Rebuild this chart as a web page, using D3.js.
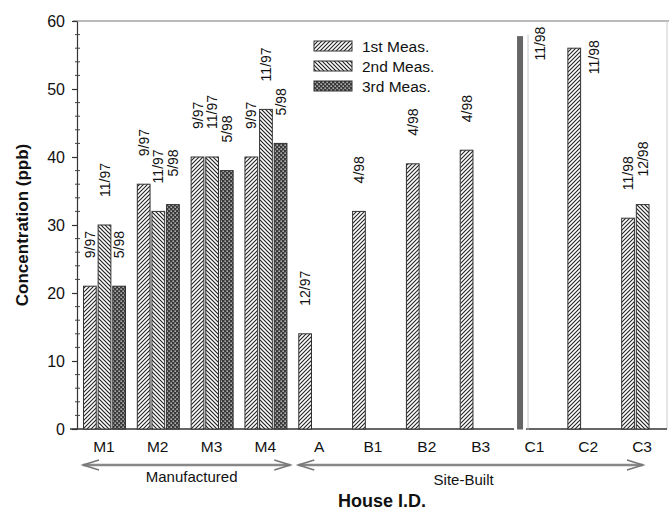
<!DOCTYPE html>
<html>
<head>
<meta charset="utf-8">
<script src="https://cdn.jsdelivr.net/npm/d3@7"></script>
<style>
  body { margin: 0; background: #fff; }
  svg { display: block; font-family: Arial, "Liberation Sans", sans-serif; }
</style>
</head>
<body>
<svg id="chart" width="669" height="515"></svg>
<script>
// house ids and the three measurement rounds (ppb)
let cats  = ['M1', 'M2', 'M3', 'M4', 'A', 'B1', 'B2', 'B3', 'C1', 'C2', 'C3']
let meas1 = [21, 36, 40, 40, 14, 32, 39, 41, 58, 56, 31]
let meas2 = [30, 32, 40, 47, null, null, null, null, null, null, 33]
let meas3 = [21, 33, 38, 42, null, null, null, null, null, null, null]
let date1 = ['9/97', '9/97', '9/97', '9/97', '12/97', '4/98', '4/98', '4/98', '11/98', '11/98', '11/98']
let date2 = ['11/97', '11/97', '11/97', '11/97', null, null, null, null, null, null, '12/98']
let date3 = ['5/98', '5/98', '5/98', '5/98', null, null, null, null, null, null, null]
let solidCats = ['C1']
let seriesNames = ['1st Meas.', '2nd Meas.', '3rd Meas.']
let groups = [
	{ name: 'Manufactured', from: 'M1', to: 'M4' },
	{ name: 'Site-Built', from: 'A', to: 'C3' }
]

let svg = d3.select('#chart')
let x = d3.scaleBand().domain(cats).range([77, 669])
let slot = d3.scaleBand().domain([0, 1, 2]).range([6.5, 48.5]).paddingInner(0.13)
let y = d3.scaleLinear().domain([0, 60]).range([429, 21])

// patterns
let defs = svg.append('defs')
let p1 = defs.append('pattern').attr('id', 'pat0').attr('patternUnits', 'userSpaceOnUse')
	.attr('width', 4).attr('height', 4)
p1.append('rect').attr('width', 4).attr('height', 4).attr('fill', '#fff')
p1.append('path').attr('d', 'M-1,1 l2,-2 M0,4 l4,-4 M3,5 l2,-2')
	.attr('stroke', '#222').attr('stroke-width', 1.1)
let p2 = defs.append('pattern').attr('id', 'pat1').attr('patternUnits', 'userSpaceOnUse')
	.attr('width', 4).attr('height', 4)
p2.append('rect').attr('width', 4).attr('height', 4).attr('fill', '#fff')
p2.append('path').attr('d', 'M-1,3 l2,2 M0,0 l4,4 M3,-1 l2,2')
	.attr('stroke', '#222').attr('stroke-width', 1.2)
let p3 = defs.append('pattern').attr('id', 'pat2').attr('patternUnits', 'userSpaceOnUse')
	.attr('width', 4).attr('height', 4)
p3.append('rect').attr('width', 4).attr('height', 4).attr('fill', '#3a3a3a')
p3.append('rect').attr('x', 0.5).attr('y', 0.5).attr('width', 1.3).attr('height', 1.3).attr('fill', '#eee')
p3.append('rect').attr('x', 2.5).attr('y', 2.5).attr('width', 1.3).attr('height', 1.3).attr('fill', '#eee')

// frame
svg.append('line').attr('x1', 73).attr('x2', 669).attr('y1', y(60)).attr('y2', y(60))
	.attr('stroke', '#777').attr('stroke-width', 1.2)
svg.append('line').attr('x1', 667).attr('x2', 667).attr('y1', y(60)).attr('y2', y(0))
	.attr('stroke', '#ccc')

// bars
let bars = []
let series = [meas1, meas2, meas3]
let dates = [date1, date2, date3]
series.forEach((s, k) => {
	s.forEach((v, i) => {
		if (v == null) return
		bars.push({ cat: cats[i], k: k, value: v, date: dates[k][i], solid: solidCats.includes(cats[i]) })
	})
})

// baseline
svg.append('line').attr('x1', 70).attr('x2', 667).attr('y1', y(0)).attr('y2', y(0))
	.attr('stroke', '#333').attr('stroke-width', 1.3)

let bx = d => x(d.cat) + slot(d.k) + (d.solid ? 1.5 : 0)
let bw = d => d.solid ? 9 : slot.bandwidth()

svg.append('g').selectAll('rect')
	.data(bars)
	.join('rect')
	.attr('x', bx)
	.attr('y', d => y(d.value))
	.attr('width', bw)
	.attr('height', d => y(0) - y(d.value) + (d.solid ? 2 : 0))
	.attr('fill', d => d.solid ? '#666' : `url(#pat${d.k})`)
	.attr('stroke', d => d.solid ? '#fff' : '#333')
	.attr('stroke-width', d => d.solid ? 3 : 1)

// light line beside the solid bar
svg.append('g').selectAll('line')
	.data(bars.filter(d => d.solid))
	.join('line')
	.attr('x1', d => bx(d) + bw(d) + 3.5).attr('x2', d => bx(d) + bw(d) + 3.5)
	.attr('y1', d => y(d.value)).attr('y2', y(0) + 1)
	.attr('stroke', '#bbb').attr('stroke-width', 0.8)

// date labels
svg.append('g').selectAll('text')
	.data(bars)
	.join('text')
	.attr('transform', d => {
		let cx = bx(d) + bw(d) / 2
		if (d.value > 50) return `translate(${cx + 25},${y(d.value) - 8}) rotate(-90)`
		return `translate(${cx + 5},${y(d.value) - 28}) rotate(-90)`
	})
	.attr('text-anchor', d => d.value > 50 ? 'end' : 'start')
	.style('font-size', '14px')
	.attr('fill', '#111')
	.text(d => d.date)

// y axis
let yAxis = svg.append('g')
	.attr('transform', 'translate(77,0)')
	.call(d3.axisLeft(y).tickValues(d3.range(0, 61, 10)).tickSize(5).tickSizeOuter(0).tickPadding(7))
yAxis.selectAll('text').style('font-size', '16px').attr('fill', '#111')
yAxis.selectAll('line, path').attr('stroke', '#333').attr('stroke-width', 1.2)
svg.append('g').selectAll('line')
	.data(d3.range(0, 60, 2).filter(v => v % 10 != 0))
	.join('line')
	.attr('x1', 75).attr('x2', 80)
	.attr('y1', d => y(d)).attr('y2', d => y(d))
	.attr('stroke', '#444').attr('stroke-width', 1)

// category labels
svg.append('g').selectAll('text')
	.data(cats)
	.join('text')
	.attr('x', d => x(d) + x.bandwidth() / 2)
	.attr('y', 452)
	.attr('text-anchor', 'middle')
	.style('font-size', '15.5px')
	.attr('fill', '#111')
	.text(d => d)

// group arrows
let arrowY = 465
let ga = svg.append('g').selectAll('g')
	.data(groups)
	.join('g')
let gx0 = d => x(d.from) + 6
let gx1 = (d, i) => i == 0 ? x(d.to) + x.bandwidth() - 2 : x(d.to) + x.bandwidth() - 26
ga.append('line')
	.attr('x1', gx0).attr('x2', gx1)
	.attr('y1', arrowY).attr('y2', arrowY)
	.attr('stroke', '#888').attr('stroke-width', 2.5)
ga.append('path')
	.attr('d', (d, i) => {
		let a = gx0(d), b = gx1(d, i)
		return `M${a + 16},${arrowY - 5} L${a},${arrowY} L${a + 16},${arrowY + 5}` +
			`M${b - 16},${arrowY - 5} L${b},${arrowY} L${b - 16},${arrowY + 5}`
	})
	.attr('fill', 'none').attr('stroke', '#777').attr('stroke-width', 1.6)
ga.append('text')
	.attr('x', (d, i) => (gx0(d) + gx1(d, i)) / 2 + (i == 0 ? 5 : -7))
	.attr('y', (d, i) => i == 0 ? 482 : 485)
	.attr('text-anchor', 'middle')
	.style('font-size', '15px')
	.attr('fill', '#111')
	.text(d => d.name)

// axis titles
svg.append('text')
	.attr('transform', 'translate(28,225) rotate(-90)')
	.attr('text-anchor', 'middle')
	.style('font-size', '17px').style('font-weight', 'bold')
	.attr('fill', '#111')
	.text('Concentration (ppb)')
svg.append('text')
	.attr('x', 382).attr('y', 507)
	.attr('text-anchor', 'middle')
	.style('font-size', '18px').style('font-weight', 'bold')
	.attr('fill', '#111')
	.text('House I.D.')

// legend
let legend = svg.append('g').selectAll('g')
	.data(seriesNames)
	.join('g')
	.attr('transform', (d, i) => `translate(314,${41 + i * 20})`)
legend.append('rect')
	.attr('width', 38).attr('height', 10)
	.attr('fill', (d, i) => `url(#pat${i})`)
	.attr('stroke', '#333')
legend.append('text')
	.attr('x', 48).attr('y', 11)
	.style('font-size', '15.5px')
	.attr('fill', '#111')
	.text(d => d)
</script>
</body>
</html>
